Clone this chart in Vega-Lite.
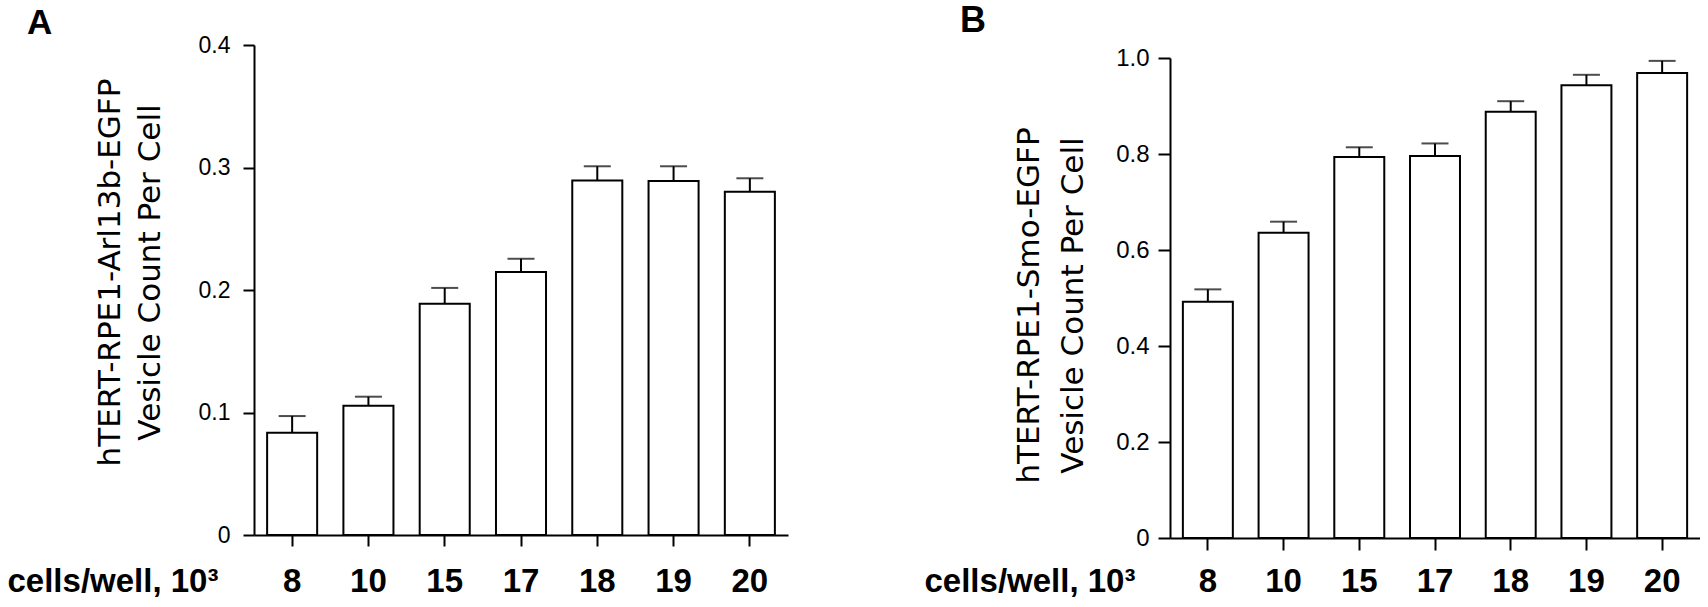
{
  "$schema": "https://vega.github.io/schema/vega-lite/v6.json",
  "padding": {"left": 7, "top": 3, "right": 0, "bottom": 0},
  "spacing": 136,
  "datasets": {
    "arl13b": [
      {"cells": "8", "mean": 0.0835, "hi": 0.0971},
      {"cells": "10", "mean": 0.1056, "hi": 0.1129},
      {"cells": "15", "mean": 0.1888, "hi": 0.2017},
      {"cells": "17", "mean": 0.2147, "hi": 0.2255},
      {"cells": "18", "mean": 0.2893, "hi": 0.301},
      {"cells": "19", "mean": 0.289, "hi": 0.301},
      {"cells": "20", "mean": 0.2802, "hi": 0.2912}
    ],
    "smo": [
      {"cells": "8", "mean": 0.492, "hi": 0.518},
      {"cells": "10", "mean": 0.636, "hi": 0.659},
      {"cells": "15", "mean": 0.794, "hi": 0.814},
      {"cells": "17", "mean": 0.796, "hi": 0.822},
      {"cells": "18", "mean": 0.888, "hi": 0.91},
      {"cells": "19", "mean": 0.943, "hi": 0.965},
      {"cells": "20", "mean": 0.969, "hi": 0.994}
    ]
  },
  "hconcat": [
    {
      "data": {"name": "arl13b"},
      "width": 534,
      "height": 490,
      "title": {
        "text": "A", "anchor": "start", "frame": "group", "dx": -227, "offset": -35,
        "baseline": "alphabetic", "font": "Liberation Sans", "fontSize": 35, "fontWeight": "bold", "color": "black"
      },
      "encoding": {
        "x": {
          "field": "cells", "type": "ordinal", "sort": null,
          "scale": {"paddingInner": 0.344, "paddingOuter": 0.172},
          "axis": {
            "title": "cells/well, 10³", "titleX": -247, "titleY": 56, "titleAlign": "left",
            "titleBaseline": "alphabetic", "titleFont": "Liberation Sans", "titleFontSize": 33,
            "titleFontWeight": "bold", "titleColor": "black",
            "labelAngle": 0, "labelFont": "Liberation Sans", "labelFontSize": 33, "labelFontWeight": "bold",
            "labelColor": "black", "labelBaseline": "alphabetic", "labelPadding": 45,
            "tickSize": 11, "tickWidth": 2, "tickColor": "black", "domainWidth": 2, "domainColor": "black"
          }
        }
      },
      "layer": [
        {
          "mark": {"type": "bar", "fill": "white", "stroke": "black", "strokeWidth": 2},
          "encoding": {
            "y": {
              "field": "mean", "type": "quantitative",
              "scale": {"domain": [0, 0.4], "nice": false},
              "axis": {
                "values": [0, 0.1, 0.2, 0.3, 0.4],
                "labelExpr": "datum.value == 0 ? '0' : format(datum.value, '.1f')",
                "labelFont": "Liberation Sans", "labelFontSize": 23, "labelColor": "black", "labelPadding": 13,
                "tickSize": 11, "tickWidth": 2, "tickColor": "black", "domainWidth": 2, "domainColor": "black",
                "grid": false,
                "title": ["hTERT-RPE1-Arl13b-EGFP", "Vesicle Count Per Cell"],
                "titleFont": "DejaVu Sans", "titleFontSize": 31, "titleFontWeight": "normal", "titleColor": "black",
                "titleAngle": -90, "titleX": -135, "titleY": 227, "titleAlign": "center",
                "titleBaseline": "alphabetic", "titleLineHeight": 40
              }
            }
          }
        },
        {
          "mark": {"type": "rule", "stroke": "black", "strokeWidth": 2},
          "encoding": {"y": {"field": "mean", "type": "quantitative"}, "y2": {"field": "hi"}}
        },
        {
          "mark": {"type": "tick", "color": "black", "size": 27, "thickness": 2},
          "encoding": {"y": {"field": "hi", "type": "quantitative"}}
        }
      ]
    },
    {
      "bounds": "flush",
      "spacing": 12,
      "vconcat": [
        {
          "data": {"values": []},
          "width": 1,
          "height": 1,
          "mark": "point"
        },
        {
          "data": {"name": "smo"},
          "width": 530,
          "height": 480,
          "title": {
            "text": "B", "anchor": "start", "frame": "group", "dx": -210, "offset": -22,
            "baseline": "alphabetic", "font": "Liberation Sans", "fontSize": 36, "fontWeight": "bold", "color": "black"
          },
          "encoding": {
            "x": {
              "field": "cells", "type": "ordinal", "sort": null,
              "scale": {"paddingInner": 0.34, "paddingOuter": 0.17},
              "axis": {
                "title": "cells/well, 10³", "titleX": -246, "titleY": 53, "titleAlign": "left",
                "titleBaseline": "alphabetic", "titleFont": "Liberation Sans", "titleFontSize": 33,
                "titleFontWeight": "bold", "titleColor": "black",
                "labelAngle": 0, "labelFont": "Liberation Sans", "labelFontSize": 33, "labelFontWeight": "bold",
                "labelColor": "black", "labelBaseline": "alphabetic", "labelPadding": 41,
                "tickSize": 12, "tickWidth": 2, "tickColor": "black", "domainWidth": 2, "domainColor": "black"
              }
            }
          },
          "layer": [
            {
              "mark": {"type": "bar", "fill": "white", "stroke": "black", "strokeWidth": 2},
              "encoding": {
                "y": {
                  "field": "mean", "type": "quantitative",
                  "scale": {"domain": [0, 1], "nice": false},
                  "axis": {
                    "values": [0, 0.2, 0.4, 0.6, 0.8, 1.0],
                    "labelExpr": "datum.value == 0 ? '0' : format(datum.value, '.1f')",
                    "labelFont": "Liberation Sans", "labelFontSize": 24, "labelColor": "black", "labelPadding": 9,
                    "tickSize": 12, "tickWidth": 2, "tickColor": "black", "domainWidth": 2, "domainColor": "black",
                    "grid": false,
                    "title": ["hTERT-RPE1-Smo-EGFP", "Vesicle Count Per Cell"],
                    "titleFont": "DejaVu Sans", "titleFontSize": 31, "titleFontWeight": "normal", "titleColor": "black",
                    "titleAngle": -90, "titleX": -132, "titleY": 247, "titleAlign": "center",
                    "titleBaseline": "alphabetic", "titleLineHeight": 44
                  }
                }
              }
            },
            {
              "mark": {"type": "rule", "stroke": "black", "strokeWidth": 2},
              "encoding": {"y": {"field": "mean", "type": "quantitative"}, "y2": {"field": "hi"}}
            },
            {
              "mark": {"type": "tick", "color": "black", "size": 27, "thickness": 2},
              "encoding": {"y": {"field": "hi", "type": "quantitative"}}
            }
          ]
        }
      ]
    }
  ],
  "config": {
    "view": {"stroke": null},
    "axis": {"grid": false}
  }
}
